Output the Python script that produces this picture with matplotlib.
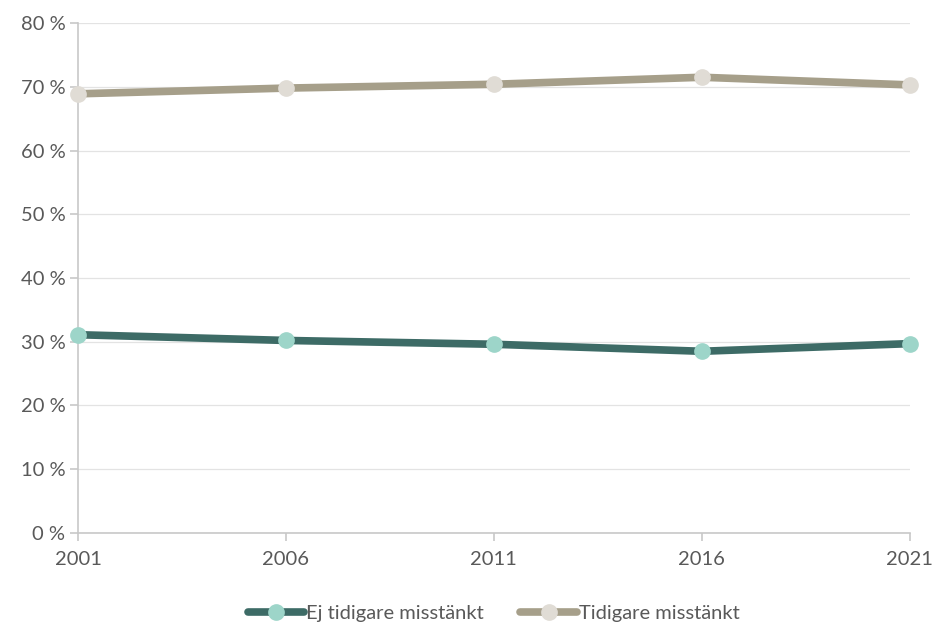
import matplotlib
matplotlib.use("Agg")
import matplotlib.pyplot as plt
from matplotlib.ticker import FuncFormatter

years = [2001, 2006, 2011, 2016, 2021]
ej_tidigare = [31.1, 30.2, 29.6, 28.5, 29.7]
tidigare = [68.9, 69.8, 70.4, 71.5, 70.3]
labels = ["Ej tidigare misstänkt", "Tidigare misstänkt"]

plt.rcParams['font.family'] = ['Lato', 'DejaVu Sans']
text_col = "#595959"

fig = plt.figure(figsize=(9.35, 6.24), dpi=100)
ax = fig.add_axes([0.0834, 0.146, 0.8896, 0.817])

ax.plot(years, ej_tidigare, color="#3d6b66", lw=5.5, marker="o", markersize=11,
        markerfacecolor="#9dd5c9", markeredgecolor="#9dd5c9", label=labels[0],
        solid_capstyle="round", zorder=3, clip_on=False)
ax.plot(years, tidigare, color="#a69f8a", lw=5.5, marker="o", markersize=11,
        markerfacecolor="#e0dcd5", markeredgecolor="#e0dcd5", label=labels[1],
        solid_capstyle="round", zorder=3, clip_on=False)

ax.set_xlim(2001, 2021)
ax.set_ylim(0, 80)
ax.set_xticks(years)
ax.set_yticks(range(0, 81, 10))
ax.yaxis.set_major_formatter(FuncFormatter(lambda v, p: f"{int(v)} %"))
ax.grid(axis="y", color="#e3e3e3", lw=0.9)
ax.set_axisbelow(True)

for s in ["top", "right"]:
    ax.spines[s].set_visible(False)
for s in ["left", "bottom"]:
    ax.spines[s].set_color("#c8c8c8")
    ax.spines[s].set_linewidth(1.2)
ax.tick_params(axis="both", colors="#c8c8c8", labelcolor=text_col, labelsize=14.5,
               length=6, width=1.2)
ax.tick_params(axis="x", pad=7)
ax.tick_params(axis="y", pad=3)

ax.legend(loc="upper center", bbox_to_anchor=(0.5, -0.105), ncol=2, frameon=False,
          fontsize=14.5, labelcolor=text_col, handlelength=2.8, handletextpad=0.1,
          columnspacing=1.8)

fig.savefig("out.png", dpi=100)
